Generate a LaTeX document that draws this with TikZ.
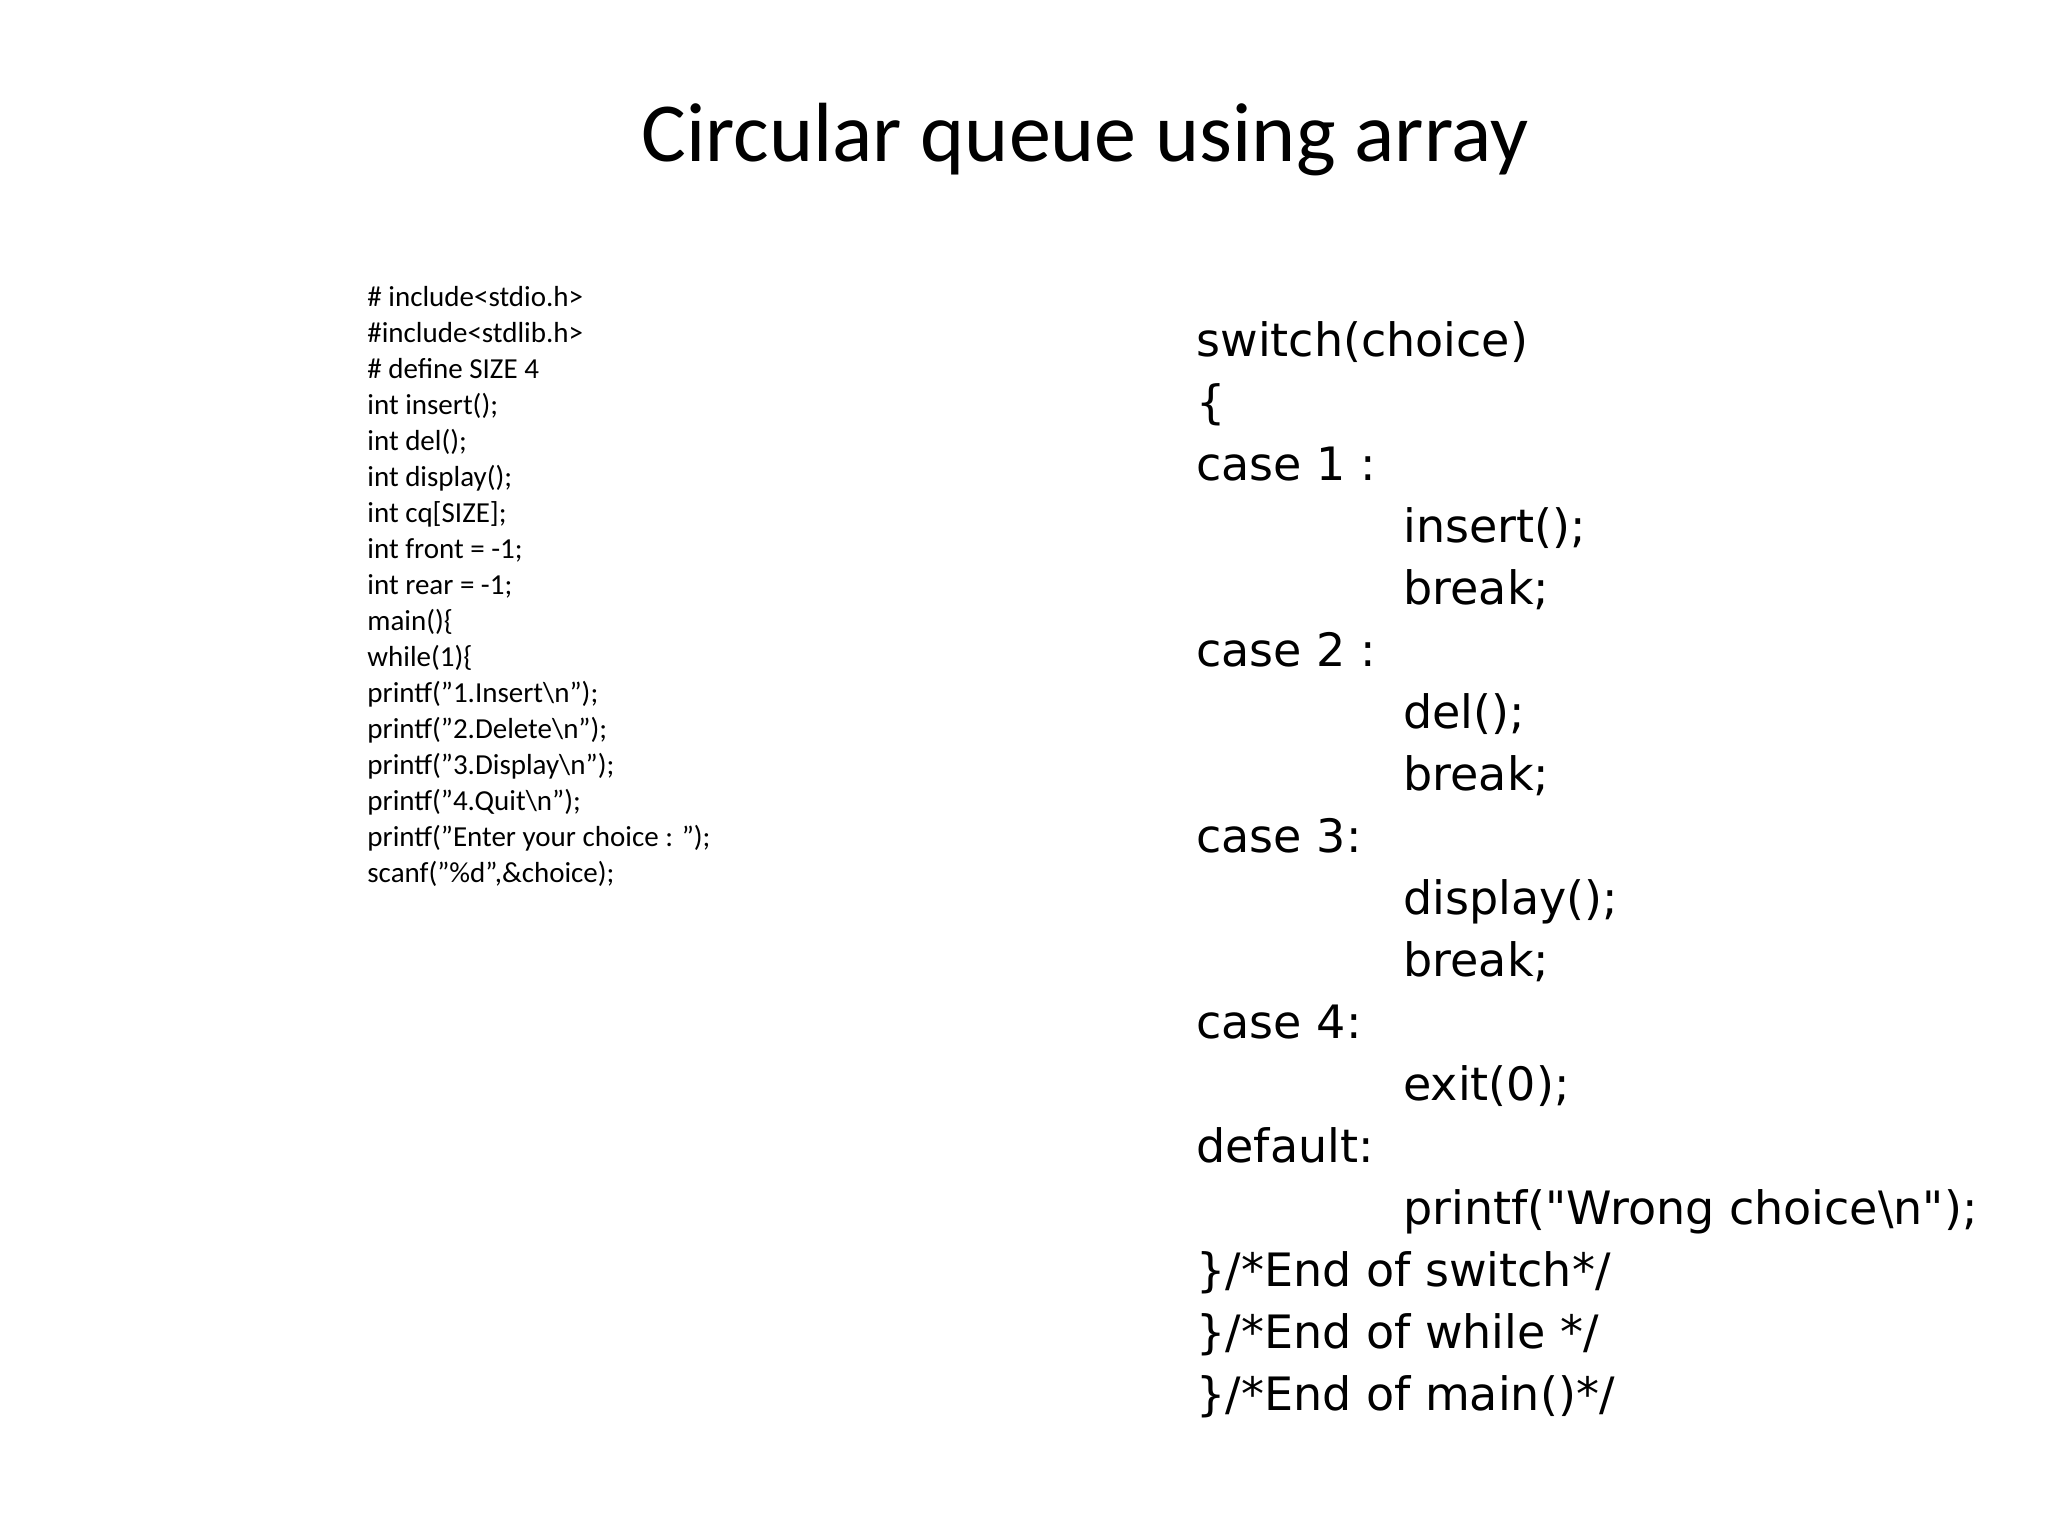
\documentclass[tikz,border=0pt]{standalone}
\usepackage{fontspec}
\setmainfont{Carlito}
\newfontfamily\comic{DejaVu Sans}
\begin{document}
\begin{tikzpicture}[x=0.5pt,y=-0.5pt,
  lt/.style={anchor=base west,inner sep=0pt,font=\fontsize{14.5}{17}\selectfont},
  rt/.style={anchor=base west,inner sep=0pt,font=\comic\fontsize{23}{28}\selectfont}]
\useasboundingbox (0,0) rectangle (2048,1536);
\node[anchor=base,inner sep=0pt,font=\fontsize{42}{50}\selectfont] (title) at (1085,161) {Circular queue using array};
\foreach \t [count=\i from 0] in {
{\# include<stdio.h>},{\#include<stdlib.h>},{\# define SIZE 4},{int insert();},{int del();},{int display();},{int cq[SIZE];},{int front = -1;},{int rear = -1;},{main()\{},{while(1)\{},
{printf("1.Insert\textbackslash n");},{printf("2.Delete\textbackslash n");},{printf("3.Display\textbackslash n");},{printf("4.Quit\textbackslash n");},{printf("Enter your choice : ");},{scanf("\%d",\&choice);}}
  \node[lt] (l\i) at (367,306+36*\i) {\t};
\foreach \t/\x [count=\i from 0] in {
{switch(choice)}/1196,{\{}/1196,{case 1 :}/1196,{insert();}/1403,{break;}/1403,{case 2 :}/1196,{del();}/1403,{break;}/1403,{case 3:}/1196,{display();}/1403,{break;}/1403,{case 4:}/1196,{exit(0);}/1403,{default:}/1196,{printf("Wrong choice\textbackslash n");}/1403,{\}/*End of switch*/}/1196,{\}/*End of while */}/1196,{\}/*End of main()*/}/1196}
  \node[rt] (r\i) at (\x,356+62*\i) {\t};
\end{tikzpicture}
\end{document}
